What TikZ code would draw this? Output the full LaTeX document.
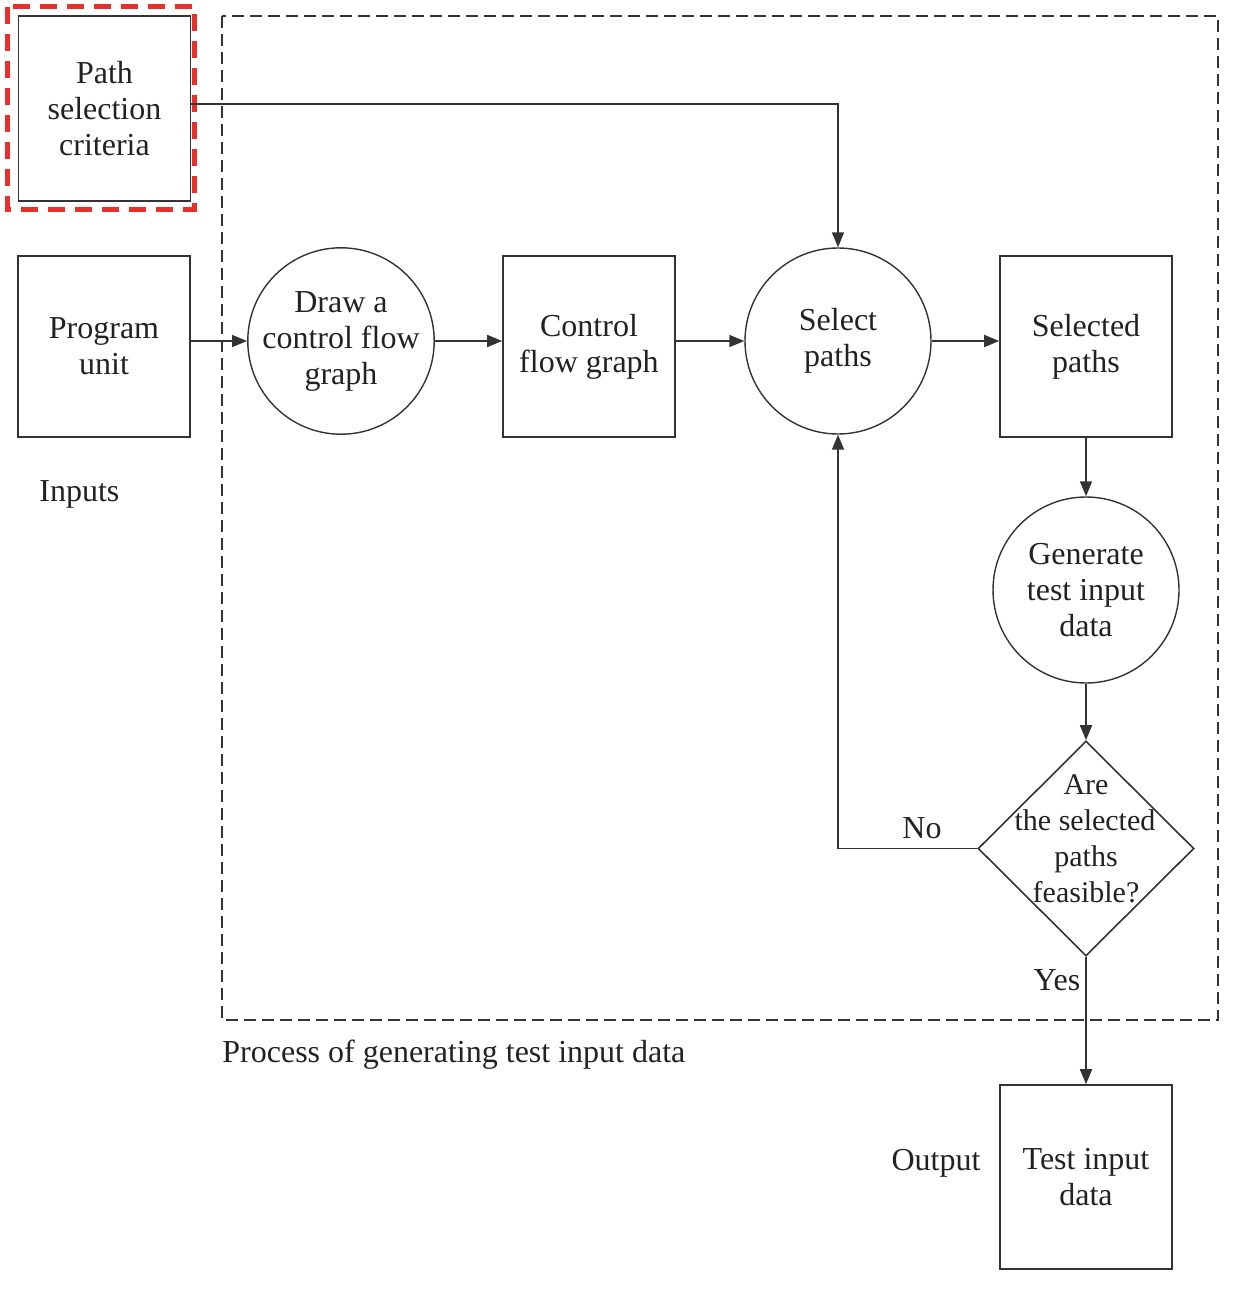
\documentclass[tikz,border=0pt]{standalone}
\usepackage{fontspec}
\setmainfont{Liberation Serif}
\usetikzlibrary{arrows.meta,shapes.geometric}
\definecolor{linegray}{HTML}{333333}
\definecolor{textgray}{HTML}{222222}
\definecolor{redline}{HTML}{E8302A}
\begin{document}
\begin{tikzpicture}[x=0.5pt,y=-0.5pt,
  txt/.style={text=textgray, font=\fontsize{16}{18}\selectfont, align=center, inner sep=0pt},
  box/.style={txt, draw=linegray, line width=0.8pt, minimum width=86pt, minimum height=90.5pt},
  circ/.style={txt, draw=linegray, line width=0.7pt, circle, minimum size=93pt},
  dia/.style={draw=linegray, line width=0.8pt, diamond, minimum width=108pt, minimum height=107.5pt, inner sep=0pt},
  conn/.style={draw=linegray, line width=0.8pt},
  arr/.style={conn, -{Triangle[length=7.5pt,width=6pt]}}]
\useasboundingbox (0,0) rectangle (1232,1290);
% frames
\draw[redline, line width=2.5pt, dash pattern=on 8.5pt off 5pt] (7.5,6.5) rectangle (194,209);
\draw[linegray, line width=0.75pt, dash pattern=on 6pt off 3pt] (222,16) rectangle (1218,1020);
% nodes
\node[box, minimum height=92.5pt] (psc) at (104.5,108.5) {Path\\selection\\criteria};
\node[box] (pu) at (104,346.5) {Program\\unit};
\node[circ] (dcfg) at (341,341) {Draw a\\control flow\\graph};
\node[box] (cfg) at (589,346.5) {Control\\flow graph};
\node[circ] (sel) at (838,341) {Select\\paths};
\node[box] (sp) at (1086,346.5) {Selected\\paths};
\node[circ] (gen) at (1086,590) {Generate\\test input\\data};
\node[dia] (feas) at (1086,848.5) {};
\node[txt, font=\fontsize{15}{18}\selectfont] (feastxt) at (1086,839) {Are\\\hspace*{-1pt}the selected\\paths\\feasible?};
\node[box, minimum height=92pt] (tid) at (1086,1177) {Test input\\data};
% labels
\node[txt, anchor=west] (inputs) at (39,494) {Inputs};
\node[txt, anchor=west] (proc) at (222,1055) {Process of generating test input data};
\node[txt] (outlbl) at (936,1163) {Output};
\node[txt] (nolbl) at (922,828) {No};
\node[txt] (yeslbl) at (1057,980) {Yes};
% connectors
\draw[arr] (psc.east |- 0,104) -| (sel.north);
\draw[arr] (pu.east |- dcfg.west) -- (dcfg.west);
\draw[arr] (dcfg.east) -- (cfg.west |- dcfg.east);
\draw[arr] (cfg.east |- sel.west) -- (sel.west);
\draw[arr] (sel.east) -- (sp.west |- sel.east);
\draw[arr] (sp.south) -- (gen.north);
\draw[arr] (gen.south) -- (feas.north);
\draw[arr] (feas.west) -| (sel.south);
\draw[arr] (feas.south) -- (tid.north);
\end{tikzpicture}
\end{document}
